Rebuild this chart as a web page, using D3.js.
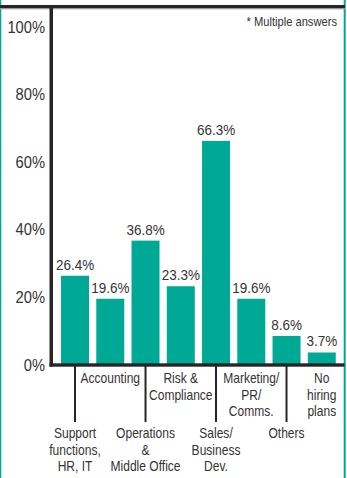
<!DOCTYPE html>
<html>
<head>
<meta charset="utf-8">
<script src="https://cdn.jsdelivr.net/npm/d3@7"></script>
<style>
  html, body { margin: 0; padding: 0; background: #fff; }
  svg { display: block; }
  text { font-family: "Liberation Sans", Arial, sans-serif; fill: #333; }
</style>
</head>
<body>
<svg id="chart" width="347" height="478"></svg>
<script>
// Hiring plans by function (share of respondents, multiple answers allowed)
const categories = [
  "Support functions, HR, IT", "Accounting", "Operations & Middle Office", "Risk & Compliance",
  "Sales/Business Dev.", "Marketing/PR/Comms.", "Others", "No hiring plans"
];
const categoryLines = [
  ["Support", "functions,", "HR, IT"],
  ["Accounting"],
  ["Operations", "&", "Middle Office"],
  ["Risk &", "Compliance"],
  ["Sales/", "Business", "Dev."],
  ["Marketing/", "PR/", "Comms."],
  ["Others"],
  ["No", "hiring", "plans"]
];
const values = [26.4, 19.6, 36.8, 23.3, 66.3, 19.6, 8.6, 3.7];
const yTicks = [0, 20, 40, 60, 80, 100];
const note = "* Multiple answers";

const W = 347, H = 478;
const teal = "#00a896";
const ink = "#262626";

const svg = d3.select("#chart");

// narrow the type horizontally around each text's own anchor x
function condense(sel, s) {
  sel.each(function () {
    const ax = +(this.getAttribute("x") || 0);
    this.setAttribute("transform", `translate(${ax},0) scale(${s},1) translate(${-ax},0)`);
  });
}

const x = d3.scaleBand()
  .domain(categories)
  .range([57.5, 339.3])
  .paddingInner(0.206)
  .paddingOuter(0.1);

const y = d3.scaleLinear().domain([0, 100]).range([365, 27]);

// frame: teal side rules and dark top rule
svg.append("rect").attr("x", 0).attr("y", 0).attr("width", 1.3).attr("height", H).attr("fill", teal);
svg.append("rect").attr("x", 343.7).attr("y", 0).attr("width", 2).attr("height", H).attr("fill", teal);
svg.append("rect").attr("x", 0).attr("y", 5).attr("width", 345).attr("height", 3).attr("fill", ink);
svg.append("rect").attr("x", 0).attr("y", 8).attr("width", 345).attr("height", 1.3).attr("fill", "#9a9a9a");

// bars
svg.append("g").selectAll("rect")
  .data(values)
  .join("rect")
  .attr("x", (d, i) => x(categories[i]))
  .attr("y", d => y(d))
  .attr("width", x.bandwidth())
  .attr("height", d => y(0) - y(d))
  .attr("fill", teal);

// value labels
svg.append("g").selectAll("text")
  .data(values)
  .join("text")
  .attr("x", (d, i) => x(categories[i]) + x.bandwidth() / 2)
  .attr("y", d => y(d) - 6)
  .attr("text-anchor", "middle")
  .attr("font-size", 15)
  .text(d => d.toFixed(1) + "%")
  .call(condense, 0.9);

// y axis labels
const yAxis = d3.axisLeft(y)
  .tickValues(yTicks)
  .tickFormat(d => d + "%")
  .tickSize(0)
  .tickPadding(6);
const gy = svg.append("g").attr("transform", "translate(51,0)").call(yAxis);
gy.attr("font-family", null).attr("font-size", null);
gy.select(".domain").remove();
gy.selectAll("text")
  .attr("font-size", 16)
  .style("fill", "#333")
  .call(condense, 0.92);

// axis rules
svg.append("rect").attr("x", 49.5).attr("y", 5).attr("width", 3.5).attr("height", 361.7).attr("fill", ink);
svg.append("rect").attr("x", 49.5).attr("y", 363.3).attr("width", 295).attr("height", 3.4).attr("fill", ink);

// category labels; the lower row hangs from leader lines
categories.forEach((c, i) => {
  const cx = x(c) + x.bandwidth() / 2;
  if (i % 2 === 0) {
    svg.append("line")
      .attr("x1", cx).attr("x2", cx)
      .attr("y1", 366).attr("y2", 422)
      .attr("stroke", ink).attr("stroke-width", 2);
  }
  const t = svg.append("text")
    .attr("x", cx)
    .attr("text-anchor", "middle")
    .attr("font-size", 14);
  const y0 = i % 2 === 0 ? 438.5 : 383.5;
  categoryLines[i].forEach((line, j) => {
    t.append("tspan").attr("x", cx).attr("y", y0 + j * 16.5).text(line);
  });
  condense(t, 0.86);
});

// footnote
svg.append("text")
  .attr("x", 337).attr("y", 26)
  .attr("text-anchor", "end")
  .attr("font-size", 12)
  .text(note)
  .call(condense, 0.93);
</script>
</body>
</html>
